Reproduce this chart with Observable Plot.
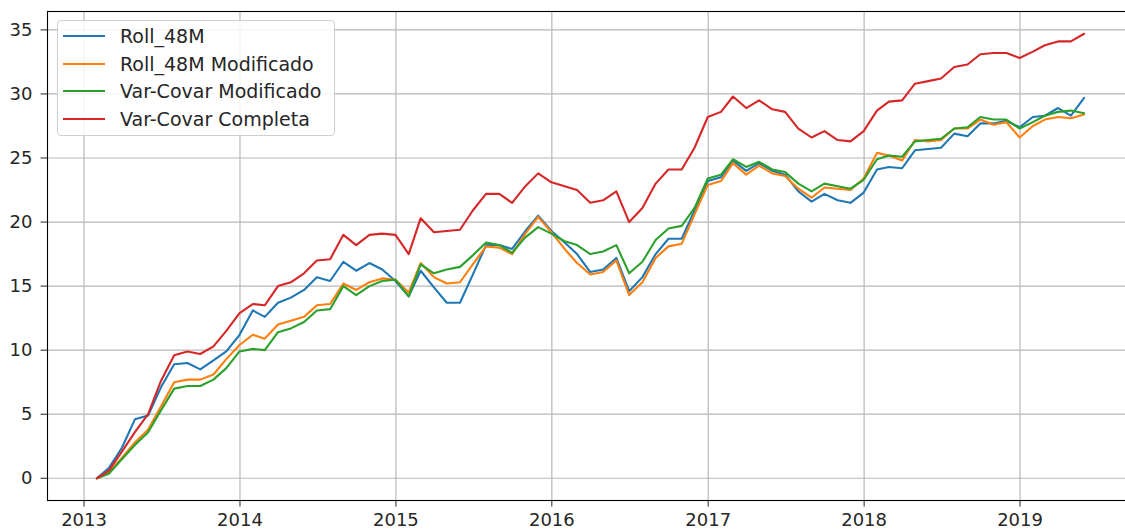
<!DOCTYPE html>
<html>
<head>
<meta charset="utf-8">
<script src="https://cdn.jsdelivr.net/npm/d3@7"></script>
<script src="https://cdn.jsdelivr.net/npm/@observablehq/plot@0.6"></script>
<style>
  html, body { margin: 0; padding: 0; background: #fff; overflow: hidden; }
  #wrap { position: relative; width: 1125px; height: 531px; overflow: hidden; font-family: "DejaVu Sans", sans-serif; }
  #wrap > svg { max-width: none !important; width: 1134px; height: 531px; display: block; }
  #legend { position: absolute; left: 57px; top: 20px; width: 278px; height: 116px;
            border: 1px solid #d0d0d0; border-radius: 4px; background: rgba(255,255,255,0.85); box-sizing: border-box; }
  .row { position: absolute; left: 0; height: 24px; display: flex; align-items: center; }
  .row svg { margin-left: 5px; }
  .row span { margin-left: 15px; font-size: 19px; color: #262626; white-space: nowrap; }
</style>
</head>
<body>
<div id="wrap"></div>
<script>
// ---- data (monthly, month-end, Jan 2013 .. May 2019) ----
const seriesNames = ["Roll_48M", "Roll_48M Modificado", "Var-Covar Modificado", "Var-Covar Completa"];
const seriesColors = ["#1f77b4", "#ff7f0e", "#2ca02c", "#d62728"];
const firstMonth = "2013-01-01";
const lastMonth = "2019-05-01";

const roll48 = [0, 0.8, 2.4, 4.6, 4.9, 7.1, 8.9, 9.0, 8.5, 9.2, 9.9, 11.2,
  13.1, 12.6, 13.7, 14.1, 14.7, 15.7, 15.4, 16.9, 16.2, 16.8, 16.3, 15.4,
  14.2, 16.2, 14.9, 13.7, 13.7, 15.9, 18.2, 18.2, 17.9, 19.3, 20.5, 19.3,
  18.4, 17.5, 16.1, 16.3, 17.2, 14.6, 15.7, 17.5, 18.7, 18.7, 20.9, 23.2,
  23.5, 24.8, 24.0, 24.6, 24.0, 23.7, 22.4, 21.6, 22.2, 21.7, 21.5, 22.3,
  24.1, 24.3, 24.2, 25.6, 25.7, 25.8, 26.9, 26.7, 27.7, 27.7, 27.9, 27.4,
  28.2, 28.3, 28.9, 28.3, 29.7];
const roll48Mod = [0, 0.45, 1.6, 2.8, 3.8, 5.6, 7.5, 7.7, 7.7, 8.1, 9.3, 10.4,
  11.2, 10.9, 12.0, 12.3, 12.6, 13.5, 13.6, 15.2, 14.7, 15.3, 15.6, 15.5,
  14.5, 16.8, 15.7, 15.2, 15.3, 16.7, 18.1, 18.0, 17.5, 19.1, 20.4, 19.2,
  17.9, 16.8, 15.9, 16.1, 17.0, 14.3, 15.3, 17.2, 18.1, 18.3, 20.6, 22.9,
  23.2, 24.6, 23.7, 24.4, 23.8, 23.6, 22.6, 21.9, 22.7, 22.6, 22.5, 23.4,
  25.4, 25.2, 24.8, 26.4, 26.3, 26.4, 27.3, 27.3, 28.0, 27.6, 27.8, 26.6,
  27.5, 28.0, 28.2, 28.1, 28.4];
const varCovarMod = [0, 0.35, 1.5, 2.6, 3.6, 5.3, 7.0, 7.2, 7.2, 7.7, 8.6, 9.9,
  10.1, 10.0, 11.4, 11.7, 12.2, 13.1, 13.2, 15.0, 14.3, 15.0, 15.4, 15.5,
  14.2, 16.7, 16.0, 16.3, 16.5, 17.4, 18.4, 18.2, 17.6, 18.8, 19.6, 19.1,
  18.5, 18.2, 17.5, 17.7, 18.2, 16.0, 16.9, 18.6, 19.5, 19.7, 21.1, 23.4,
  23.7, 24.9, 24.3, 24.7, 24.1, 23.9, 23.0, 22.4, 23.0, 22.8, 22.6, 23.3,
  24.9, 25.2, 25.1, 26.3, 26.4, 26.5, 27.3, 27.4, 28.2, 28.0, 28.0, 27.3,
  27.8, 28.3, 28.6, 28.7, 28.5];
const varCovarFull = [0, 0.6, 2.1, 3.6, 5.0, 7.6, 9.6, 9.9, 9.7, 10.3, 11.5, 12.9,
  13.6, 13.5, 15.0, 15.3, 16.0, 17.0, 17.1, 19.0, 18.2, 19.0, 19.1, 19.0,
  17.5, 20.3, 19.2, 19.3, 19.4, 20.9, 22.2, 22.2, 21.5, 22.8, 23.8, 23.1,
  22.8, 22.5, 21.5, 21.7, 22.4, 20.0, 21.1, 23.0, 24.1, 24.1, 25.8, 28.2,
  28.6, 29.8, 28.9, 29.5, 28.8, 28.6, 27.3, 26.6, 27.1, 26.4, 26.3, 27.1,
  28.7, 29.4, 29.5, 30.8, 31.0, 31.2, 32.1, 32.3, 33.1, 33.2, 33.2, 32.8,
  33.3, 33.8, 34.1, 34.1, 34.7];
const yTicks = [0, 5, 10, 15, 20, 25, 30, 35];

// ---- build table ----
const months = d3.utcMonths(new Date(firstMonth), d3.utcMonth.offset(new Date(lastMonth), 1));
const dates = months.map(m => d3.utcDay.offset(d3.utcMonth.offset(m, 1), -1));
const allSeries = [roll48, roll48Mod, varCovarMod, varCovarFull];
const rows = [];
allSeries.forEach((vals, s) => vals.forEach((v, i) => rows.push({date: dates[i], value: v, series: seriesNames[s]})));

// matplotlib-like 5% margins
const [d0, d1] = d3.extent(dates);
const dpad = (d1 - d0) * 0.05;
const xDomain = [new Date(+d0 - dpad), new Date(+d1 + dpad)];
const [v0, v1] = d3.extent(rows, d => d.value);
const vpad = (v1 - v0) * 0.05;
const yDomain = [v0 - vpad, v1 + vpad];

const chart = Plot.plot({
  width: 1134,
  height: 531,
  marginLeft: 47,
  marginRight: 1,
  marginTop: 11,
  marginBottom: 31,
  style: {fontFamily: "DejaVu Sans, sans-serif", fontSize: "18px", color: "#262626", background: "#fff", overflow: "hidden", maxWidth: "none"},
  x: {type: "utc", domain: xDomain},
  y: {domain: yDomain},
  color: {domain: seriesNames, range: seriesColors},
  marks: [
    Plot.gridX({ticks: d3.utcYear.every(1), stroke: "#b8b8b8", strokeOpacity: 1, strokeWidth: 1.2}),
    Plot.gridY(yTicks, {stroke: "#b8b8b8", strokeOpacity: 1, strokeWidth: 1.2}),
    Plot.axisX({ticks: d3.utcYear.every(1), tickFormat: d3.utcFormat("%Y"), tickSize: 6.5, tickPadding: 6, label: null, fontSize: 18}),
    Plot.axisY(yTicks, {tickSize: 6.5, tickPadding: 8.5, label: null, fontSize: 18}),
    ...seriesNames.map((name, s) =>
      Plot.lineY(rows.filter(r => r.series === name), {x: "date", y: "value", stroke: seriesColors[s], strokeWidth: 2.1})
    ),
    Plot.frame({stroke: "#000", strokeWidth: 1.1})
  ]
});

const wrap = document.getElementById("wrap");
wrap.appendChild(chart);

// legend
const legend = document.createElement("div");
legend.id = "legend";
seriesNames.forEach((name, i) => {
  const row = document.createElement("div");
  row.className = "row";
  row.style.top = (3 + i * 27.5) + "px";
  row.innerHTML = `<svg width="42" height="4"><line x1="0" y1="2" x2="42" y2="2" stroke="${seriesColors[i]}" stroke-width="2.1"/></svg><span>${name}</span>`;
  legend.appendChild(row);
});
wrap.appendChild(legend);
</script>
</body>
</html>
